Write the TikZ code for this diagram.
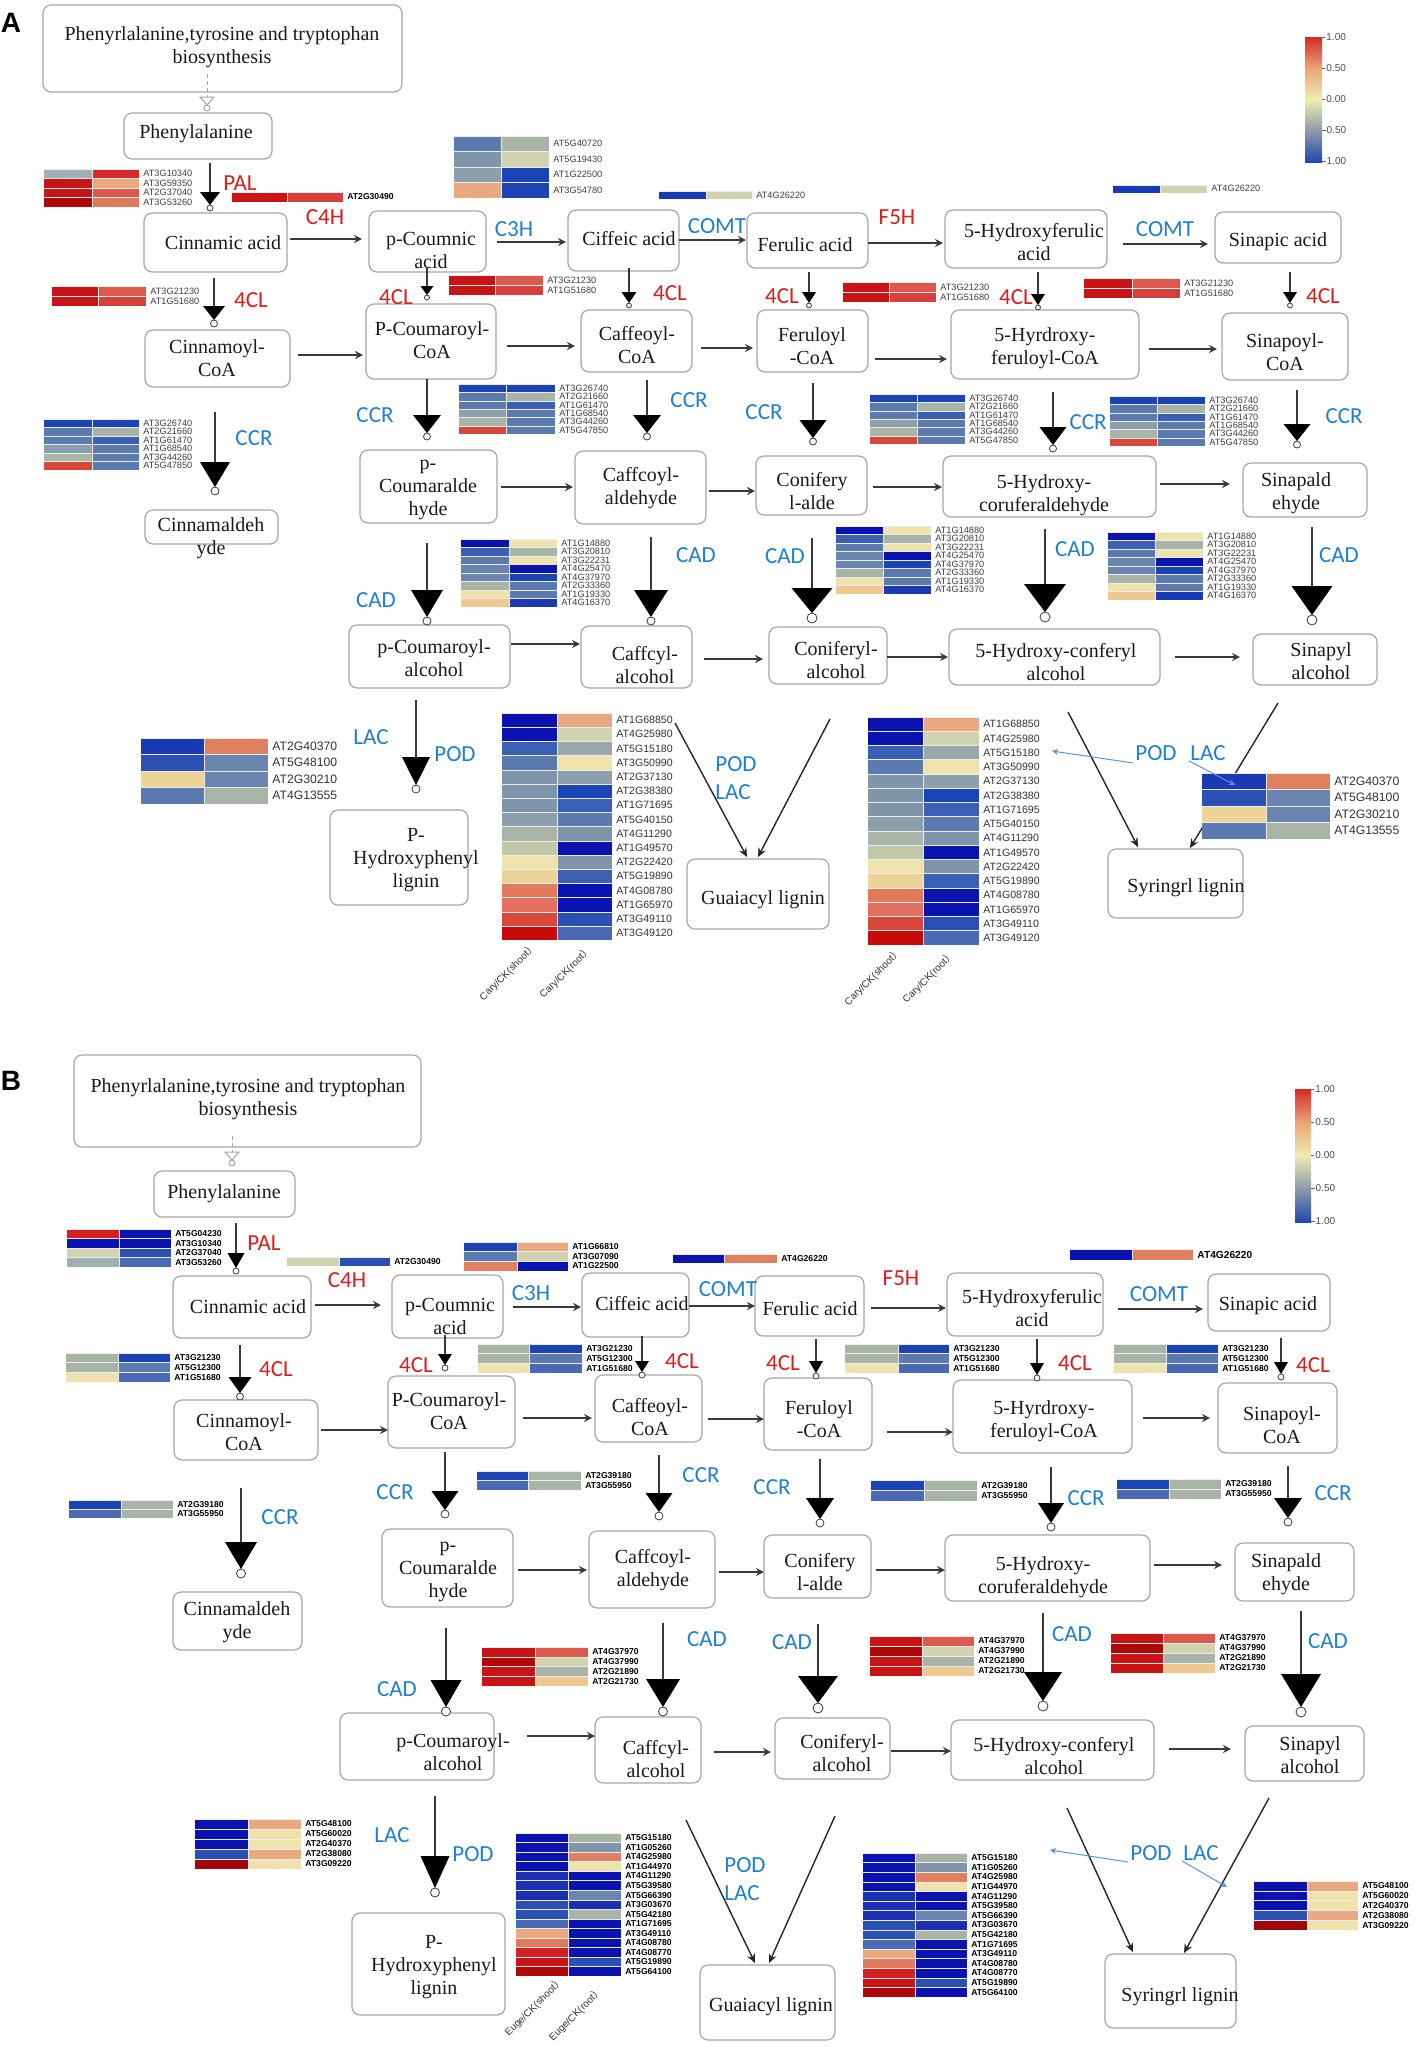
\documentclass[tikz,border=0pt]{standalone}
\usepackage{fontspec}
\setmainfont{Liberation Serif}
\newfontfamily\enzf{Carlito}
\newfontfamily\genef{Liberation Sans}
\newfontfamily\cjk{Noto Sans CJK SC}
\usetikzlibrary{calc,arrows.meta}
\definecolor{boxgrey}{HTML}{A6A6A6}
\definecolor{lineg}{HTML}{3A3A3A}
\definecolor{txtblack}{HTML}{1A1A1A}
\definecolor{enzred}{HTML}{DD1C1C}
\definecolor{enzblue}{HTML}{1E80D2}
\definecolor{ptrblue}{HTML}{5E92D8}
\definecolor{hDR}{HTML}{B00808}
\definecolor{hDRt}{HTML}{A00808}
\definecolor{hR}{HTML}{C81414}
\definecolor{hRb}{HTML}{D42A2A}
\definecolor{hRc}{HTML}{D6403A}
\definecolor{hRd}{HTML}{D42020}
\definecolor{hRe}{HTML}{C80A0A}
\definecolor{hRs}{HTML}{D9473A}
\definecolor{hSa}{HTML}{DC5A4C}
\definecolor{hSb}{HTML}{E07A5A}
\definecolor{hSc}{HTML}{E08060}
\definecolor{hSd}{HTML}{E47060}
\definecolor{hO}{HTML}{E8A880}
\definecolor{hOb}{HTML}{EEC890}
\definecolor{hY}{HTML}{F0E2AC}
\definecolor{hYb}{HTML}{ECD498}
\definecolor{hYg}{HTML}{D0D2B0}
\definecolor{hGr}{HTML}{A8B4A8}
\definecolor{hGy}{HTML}{C0C8A8}
\definecolor{hGb}{HTML}{8C9FAB}
\definecolor{hGbb}{HTML}{98A8AB}
\definecolor{hGbc}{HTML}{7F95AA}
\definecolor{hGbz}{HTML}{9FB0B5}
\definecolor{hSt}{HTML}{5A7AB0}
\definecolor{hStb}{HTML}{6A85B0}
\definecolor{hMb}{HTML}{4A6AB5}
\definecolor{hB}{HTML}{1A43B5}
\definecolor{hBb}{HTML}{1A3AB5}
\definecolor{hBc}{HTML}{3A60B5}
\definecolor{hBd}{HTML}{2A4FB5}
\definecolor{hBe}{HTML}{1A30B0}
\definecolor{hDB}{HTML}{0A12B0}
\definecolor{cbB}{HTML}{2346B0}
\definecolor{cbG}{HTML}{8C9AA8}
\definecolor{cbY}{HTML}{EFEDB4}
\definecolor{cbO}{HTML}{EAA478}
\definecolor{cbR}{HTML}{D42A2A}
\pgfdeclareverticalshading{cbar}{100bp}{color(0bp)=(cbB); color(25bp)=(cbB); color(37.5bp)=(cbG); color(50bp)=(cbY); color(62.5bp)=(cbO); color(75bp)=(cbR); color(100bp)=(cbR)}

\newcommand\bx[8]{%
 \node[boxst,minimum width={(#4-#2)*0.5pt},minimum height={(#5-#3)*0.5pt}] (#1) at ({(#2+#4)/2},{(#3+#5)/2}) {};
 \node[btx] (#1-t) at (#6,#7) {#8};}
\newcommand\rx[5]{%
 \coordinate (ry) at (0,#3);
 \draw[rxn] ($(#1.east |- ry)+(#4,0)$) -- ($(#2.west |- ry)+(-#5,0)$);}
\newcommand\enz[8]{%
 \coordinate (#1) at (#3,#5);
 \draw[enzl] ($(#2.south -| #1)+(0,#4)$) -- ($(#1)+(0,{2-#7})$);
 \fill[tri] (#1) -- ++({-#6/2},{-#7}) -- ++(#6,0) -- cycle;
 \draw[circst] ($(#1)+(0,{2*#8})$) circle[radius=#8pt];}
\newcommand\hmap[8]{%
 \edef\hmlist{#8}%
 \foreach \ca/\cb/\lab [count=\i] in \hmlist {%
  \pgfmathsetmacro\hmya{#5+(\i-1)*#6}%
  \pgfmathsetmacro\hmyb{#5+\i*#6}%
  \fill[\ca] (#2,\hmya) rectangle (#3,\hmyb);
  \fill[\cb] (#3,\hmya) rectangle (#4,\hmyb);
  \draw[hsep] (#2,\hmya) -- (#4,\hmya);
  \draw[hsep] (#3,\hmya) -- (#3,\hmyb);
  \node[#7] (#1-\i) at ({#4+4},{(\hmya+\hmyb)/2}) {\lab};
 }}

\def\LfclA{hR/hSa/AT3G21230,hR/hRc/AT1G51680}
\def\LccrA{hB/hB/AT3G26740,hSt/hGr/AT2G21660,hSt/hBc/AT1G61470,hGb/hSt/AT1G68540,hGr/hSt/AT3G44260,hRs/hSt/AT5G47850}
\def\LcadA{hDB/hY/AT1G14880,hBc/hGr/AT3G20810,hSt/hY/AT3G22231,hStb/hDB/AT4G25470,hStb/hB/AT4G37970,hGr/hSt/AT2G33360,hY/hSt/AT1G19330,hOb/hBb/AT4G16370}
\def\LlacA{hBb/hSc/AT2G40370,hBd/hStb/AT5G48100,hYb/hStb/AT2G30210,hSt/hGr/AT4G13555}
\def\LpodA{hDB/hO/AT1G68850,hDB/hYg/AT4G25980,hBc/hGbb/AT5G15180,hSt/hY/AT3G50990,hGbc/hGb/AT2G37130,hGbc/hB/AT2G38380,hGbc/hBc/AT1G71695,hGb/hSt/AT5G40150,hGr/hGbc/AT4G11290,hGy/hDB/AT1G49570,hY/hGbc/AT2G22420,hYb/hBc/AT5G19890,hSb/hDB/AT4G08780,hSd/hDB/AT1G65970,hRs/hBd/AT3G49110,hRe/hMb/AT3G49120}
\def\LfclB{hGr/hB/AT3G21230,hGr/hSt/AT5G12300,hY/hMb/AT1G51680}
\def\LccrB{hB/hGr/AT2G39180,hMb/hGr/AT3G55950}
\def\LcadB{hR/hSa/AT4G37970,hDR/hYg/AT4G37990,hR/hGr/AT2G21890,hR/hOb/AT2G21730}
\def\LlacB{hDB/hO/AT5G48100,hDB/hY/AT5G60020,hDB/hY/AT2G40370,hBd/hO/AT2G38080,hDRt/hY/AT3G09220}
\def\LpodB{hDB/hGr/AT5G15180,hDB/hGbc/AT1G05260,hDB/hSc/AT4G25980,hDB/hY/AT1G44970,hBe/hDB/AT4G11290,hBe/hDB/AT5G39580,hBe/hStb/AT5G66390,hBd/hBe/AT3G03670,hBd/hGr/AT5G42180,hMb/hDB/AT1G71695,hO/hDB/AT3G49110,hSb/hDB/AT4G08780,hRd/hDB/AT4G08770,hR/hBd/AT5G19890,hDR/hDB/AT5G64100}

\begin{document}
\begin{tikzpicture}[x=0.5pt,y=-0.5pt,
 boxst/.style={rectangle,draw=boxgrey,line width=0.6pt,rounded corners=4pt,fill=white,inner sep=0pt,outer sep=0pt},
 btx/.style={font=\fontsize{10}{11.5}\selectfont,align=center,inner sep=0pt,text=txtblack},
 rxn/.style={draw=lineg,line width=0.65pt,-{Stealth[length=4pt,width=4pt]}},
 lig/.style={draw=black!85,line width=0.7pt,-{Stealth[length=4.5pt,width=4pt]}},
 enzl/.style={draw=lineg,line width=0.6pt},
 tri/.style={fill=black},
 circst/.style={draw=lineg,fill=white,line width=0.4pt},
 er/.style={font=\enzf\fontsize{11.5}{12}\selectfont,text=enzred,inner sep=0pt},
 eb/.style={font=\enzf\fontsize{11.5}{12}\selectfont,text=enzblue,inner sep=0pt},
 hsep/.style={draw=white!85!gray,line width=0.3pt},
 gA/.style={anchor=west,inner sep=0pt,font=\genef\fontsize{4.6}{5}\selectfont,text=black!75},
 gAb/.style={anchor=west,inner sep=0pt,font=\genef\bfseries\fontsize{4.3}{5}\selectfont,text=black},
 gAm/.style={anchor=west,inner sep=0pt,font=\genef\fontsize{5.3}{6}\selectfont,text=black!80},
 gAl/.style={anchor=west,inner sep=0pt,font=\genef\fontsize{6.1}{7}\selectfont,text=black!80},
 gB/.style={anchor=west,inner sep=0pt,font=\genef\bfseries\fontsize{4.3}{5}\selectfont,text=black},
 gBm/.style={anchor=west,inner sep=0pt,font=\genef\bfseries\fontsize{5.1}{6}\selectfont,text=black},
 blarr/.style={draw=ptrblue,line width=0.5pt,-{Stealth[length=3pt,width=3pt]}},
 dashl/.style={draw=boxgrey,line width=0.5pt,dash pattern=on 2pt off 1.5pt},
 openmark/.style={draw=boxgrey,line width=0.5pt,fill=white},
 collab/.style={font=\genef\fontsize{5}{6}\selectfont,text=black!80,inner sep=0pt,rotate=45,anchor=east},
 cbl/.style={font=\genef\fontsize{5}{6}\selectfont,text=black!70,anchor=west,inner sep=0pt},
 panl/.style={font=\genef\bfseries\fontsize{14}{14}\selectfont,inner sep=0pt}]

\fill[white] (0,0) rectangle (1417,2047);
\useasboundingbox (0,0) rectangle (1417,2047);

% ================= PANEL A =================
\node[panl] (labA) at (11,23) {A};
\bx{topA}{43}{5}{402}{92}{222}{47}{Phenyrlalanine,tyrosine and tryptophan\\biosynthesis}
\bx{pheA}{124}{113}{272}{159}{196}{134}{Phenylalanine}
\bx{cinA}{144}{213}{287}{272}{223}{243}{Cinnamic acid}
\bx{pcaA}{369}{211}{486}{272}{431}{250}{p-Coumnic\\acid}
\bx{cafA}{568}{210}{679}{271}{629}{239}{Ciffeic acid}
\bx{ferA}{747}{213}{868}{268}{805}{245}{Ferulic acid}
\bx{hfaA}{945}{210}{1107}{268}{1034}{242}{5-Hydroxyferulic\\acid}
\bx{sinA}{1215}{212}{1341}{263}{1278}{242}{Sinapic acid}
\bx{ciCoA}{145}{330}{290}{387}{217}{358}{Cinnamoyl-\\CoA}
\bx{pcCoA}{366}{304}{496}{379}{432}{340}{P-Coumaroyl-\\CoA}
\bx{cfCoA}{581}{310}{692}{372}{637}{345}{Caffeoyl-\\CoA}
\bx{feCoA}{757}{310}{868}{372}{812}{346}{Feruloyl\\-CoA}
\bx{hfCoA}{951}{310}{1139}{379}{1045}{348}{5-Hyrdroxy-\\feruloyl-CoA}
\bx{snCoA}{1222}{313}{1348}{380}{1285}{352}{Sinapoyl-\\CoA}
\bx{caldA}{145}{510}{278}{544}{211}{538}{Cinnamaldeh\\yde}
\bx{pcaldA}{360}{450}{497}{523}{428}{490}{p-\\Coumaralde\\hyde}
\bx{cfaldA}{575}{451}{706}{524}{641}{488}{Caffcoyl-\\aldehyde}
\bx{coaldA}{756}{456}{867}{515}{812}{491}{Conifery\\l-alde}
\bx{hcaldA}{943}{456}{1156}{517}{1044}{495}{5-Hydroxy-\\coruferaldehyde}
\bx{snaldA}{1243}{463}{1367}{517}{1296}{493}{Sinapald\\ehyde}
\bx{pcalcA}{349}{625}{510}{688}{434}{658}{p-Coumaroyl-\\alcohol}
\bx{cfalcA}{581}{626}{692}{688}{645}{665}{Caffcyl-\\alcohol}
\bx{coalcA}{769}{627}{887}{684}{836}{660}{Coniferyl-\\alcohol}
\bx{hcalcA}{949}{629}{1160}{685}{1056}{662}{5-Hydroxy-conferyl\\alcohol}
\bx{snalcA}{1253}{634}{1377}{685}{1321}{661}{Sinapyl\\alcohol}
\bx{phlA}{330}{810}{468}{905}{416}{860}{P-\\Hydroxyphenyl\\lignin}
\bx{glA}{687}{859}{829}{929}{763}{900}{Guaiacyl lignin}
\bx{slA}{1108}{849}{1243}{918}{1186}{888}{Syringrl lignin}

% dashed link
\coordinate (dA) at (207,97);
\draw[dashl] ($(topA.south -| dA)+(0,-18)$) -- (dA);
\draw[openmark] (dA) ++(-7,0) -- ++(14,0) -- ++(-7,8) -- cycle;
\draw[openmark] ($(dA)+(0,11)$) circle[radius=1.5pt];

% reaction arrows A
\rx{cinA}{pcaA}{239}{3}{7}
\rx{pcaA}{cafA}{242}{11}{2}
\rx{cafA}{ferA}{240}{0}{1}
\rx{ferA}{hfaA}{243}{0}{2}
\rx{hfaA}{sinA}{244}{16}{7}
\rx{ciCoA}{pcCoA}{355}{8}{3}
\rx{pcCoA}{cfCoA}{346}{11}{6}
\rx{cfCoA}{feCoA}{348}{9}{4}
\rx{feCoA}{hfCoA}{359}{7}{4}
\rx{hfCoA}{snCoA}{349}{10}{5}
\rx{pcaldA}{cfaldA}{487}{4}{2}
\rx{cfaldA}{coaldA}{491}{3}{1}
\rx{coaldA}{hcaldA}{487}{6}{1}
\rx{hcaldA}{snaldA}{484}{4}{13}
\rx{pcalcA}{cfalcA}{644}{1}{1}
\rx{cfalcA}{coalcA}{659}{12}{6}
\rx{coalcA}{hcalcA}{657}{0}{1}
\rx{hcalcA}{snalcA}{657}{15}{13}

% enzyme arrows A
\enz{eA1}{pheA}{210}{4}{205}{20}{13}{1.5}
\enz{eA2}{cinA}{214}{6}{320}{22}{14}{1.75}
\enz{eA3}{pcaA}{427}{-5}{295}{13}{9}{1.25}
\enz{eA4}{cafA}{629}{-3}{303}{15}{11}{1.25}
\enz{eA5}{ferA}{809}{4}{303}{14}{11}{1.25}
\enz{eA6}{hfaA}{1038}{4}{305}{14}{11}{1.25}
\enz{eA7}{sinA}{1290}{9}{303}{14}{11}{1.25}
\enz{eA8}{ciCoA}{215}{25}{487}{30}{25}{2}
\enz{eA9}{pcCoA}{427}{0}{433}{28}{18}{1.75}
\enz{eA10}{cfCoA}{647}{8}{433}{28}{18}{1.75}
\enz{eA11}{feCoA}{813}{11}{438}{27}{18}{1.75}
\enz{eA12}{hfCoA}{1053}{13}{445}{27}{18}{1.75}
\enz{eA13}{snCoA}{1297}{10}{441}{27}{17}{1.75}
\enz{eA14}{pcaldA}{427}{20}{617}{32}{27}{2}
\enz{eA15}{cfaldA}{651}{13}{617}{34}{27}{2}
\enz{eA16}{coaldA}{812}{23}{613}{41}{25}{2.5}
\enz{eA17}{hcaldA}{1045}{12}{612}{42}{28}{2.5}
\enz{eA18}{snaldA}{1312}{10}{615}{41}{29}{2.5}
\enz{eA19}{pcalcA}{416}{12}{785}{28}{28}{2}

% lignin arrows A
\coordinate (gA1) at (675,723);
\coordinate (gA2) at (830,719);
\draw[lig] (gA1) -- ($(glA.north west)+(60,-2)$);
\draw[lig] (gA2) -- ($(glA.north west)+(71,-2)$);
\coordinate (sA1) at (1068,712);
\coordinate (sA2) at (1278,703);
\draw[lig] (sA1) -- ($(slA.north west)+(30,-2)$);
\draw[lig] (sA2) -- ($(slA.north west)+(82,-1)$);

% heatmaps A
\hmap{hPALA}{44}{92}{139}{169}{9.5}{gA}{hGbz/hRb/AT3G10340,hR/hO/AT3G59350,hR/hSa/AT2G37040,hDR/hSb/AT3G53260}
\hmap{hC4HA}{232}{287}{343}{192}{10}{gAb}{hR/hRc/AT2G30490}
\hmap{hC3HA}{454}{501}{549}{136}{15.5}{gA}{hSt/hGr/AT5G40720,hGbc/hYg/AT5G19430,hGb/hB/AT1G22500,hO/hB/AT3G54780}
\hmap{hCOMTA1}{659}{706}{752}{191}{8}{gA}{hBb/hYg/AT4G26220}
\hmap{hCOMTA2}{1113}{1160}{1207}{185}{7.5}{gA}{hBb/hYg/AT4G26220}
\hmap{h4CLA1}{52}{98}{146}{286}{10}{gA}{\LfclA}
\hmap{h4CLA2}{449}{495}{543}{275}{10}{gA}{\LfclA}
\hmap{h4CLA3}{843}{889}{936}{282}{10}{gA}{\LfclA}
\hmap{h4CLA4}{1084}{1132}{1180}{278}{10}{gA}{\LfclA}
\hmap{hCCRA1}{44}{92}{139}{419}{8.5}{gA}{\LccrA}
\hmap{hCCRA2}{459}{506}{555}{384}{8.4}{gA}{\LccrA}
\hmap{hCCRA3}{870}{917}{965}{394}{8.4}{gA}{\LccrA}
\hmap{hCCRA4}{1110}{1157}{1205}{396}{8.4}{gA}{\LccrA}
\hmap{hCADA1}{461}{509}{557}{539}{8.5}{gA}{\LcadA}
\hmap{hCADA2}{836}{883}{931}{526}{8.5}{gA}{\LcadA}
\hmap{hCADA3}{1108}{1155}{1203}{532}{8.5}{gA}{\LcadA}
\hmap{hLACA1}{141}{204}{268}{738}{16.5}{gAl}{\LlacA}
\hmap{hPODA1}{502}{557}{612}{713}{14.2}{gAm}{\LpodA}
\hmap{hPODA2}{868}{923}{979}{717}{14.25}{gAm}{\LpodA}
\hmap{hLACA2}{1202}{1266}{1330}{773}{16.5}{gAl}{\LlacA}

\node[collab] (cA1) at (535,945) {Cary/CK(shoot{\cjk ）}};
\node[collab] (cA2) at (590,948) {Cary/CK(root{\cjk ）}};
\node[collab] (cA3) at (900,950) {Cary/CK(shoot{\cjk ）}};
\node[collab] (cA4) at (953,953) {Cary/CK(root{\cjk ）}};

% enzyme labels A
\node[er] (lPALA) at (240,183) {PAL};
\node[er] (lC4HA) at (325,217) {C4H};
\node[eb] (lC3HA) at (514,229) {C3H};
\node[eb] (lCOMTA1) at (717,226) {COMT};
\node[er] (lF5HA) at (897,217) {F5H};
\node[eb] (lCOMTA2) at (1165,229) {COMT};
\node[er] (l4CLA1) at (251,300) {4CL};
\node[er] (l4CLA2) at (396,297) {4CL};
\node[er] (l4CLA3) at (670,293) {4CL};
\node[er] (l4CLA4) at (782,296) {4CL};
\node[er] (l4CLA5) at (1016,297) {4CL};
\node[er] (l4CLA6) at (1323,296) {4CL};
\node[eb] (lCCRA1) at (254,438) {CCR};
\node[eb] (lCCRA2) at (375,415) {CCR};
\node[eb] (lCCRA3) at (689,400) {CCR};
\node[eb] (lCCRA4) at (764,412) {CCR};
\node[eb] (lCCRA5) at (1088,422) {CCR};
\node[eb] (lCCRA6) at (1344,416) {CCR};
\node[eb] (lCADA1) at (376,600) {CAD};
\node[eb] (lCADA2) at (696,555) {CAD};
\node[eb] (lCADA3) at (785,556) {CAD};
\node[eb] (lCADA4) at (1075,549) {CAD};
\node[eb] (lCADA5) at (1339,555) {CAD};
\node[eb] (lLACA1) at (371,737) {LAC};
\node[eb] (lPODA1) at (455,754) {POD};
\node[eb] (lPODA2) at (736,764) {POD};
\node[eb] (lLACA2) at (733,792) {LAC};
\node[eb] (lPODA3) at (1156,753) {POD};
\node[eb] (lLACA3) at (1208,753) {LAC};

\coordinate (pA1) at (1052,751);
\coordinate (pA2) at (1235,785);
\draw[blarr] ($(lPODA3.south west)+(-2,2)$) -- (pA1);
\draw[blarr] ($(lLACA3.south west)+(-1,0)$) -- (pA2);

% colour bar A
\shade[shading=cbar] (1305,37) rectangle (1322,162);
\foreach \yy in {37,68,99,130,161} \draw[black!60,line width=0.3pt] (1322,\yy) -- (1325,\yy);
\node[cbl] (cbA1) at (1326,37) {1.00};
\node[cbl] (cbA2) at (1326,68) {0.50};
\node[cbl] (cbA3) at (1326,99) {0.00};
\node[cbl] (cbA4) at (1323,130) {-0.50};
\node[cbl] (cbA5) at (1323,161) {-1.00};

% ================= PANEL B =================
\node[panl] (labB) at (11,1081) {B};
\bx{topB}{74}{1055}{421}{1147}{248}{1099}{Phenyrlalanine,tyrosine and tryptophan\\biosynthesis}
\bx{pheB}{154}{1171}{295}{1217}{224}{1194}{Phenylalanine}
\bx{cinB}{173}{1276}{311}{1338}{248}{1307}{Cinnamic acid}
\bx{pcaB}{392}{1275}{503}{1338}{450}{1316}{p-Coumnic\\acid}
\bx{cafB}{582}{1273}{689}{1337}{642}{1304}{Ciffeic acid}
\bx{ferB}{755}{1276}{864}{1336}{810}{1309}{Ferulic acid}
\bx{hfaB}{947}{1273}{1103}{1336}{1032}{1308}{5-Hydroxyferulic\\acid}
\bx{sinB}{1208}{1274}{1330}{1331}{1268}{1306}{Sinapic acid}
\bx{ciCoB}{174}{1400}{318}{1460}{244}{1432}{Cinnamoyl-\\CoA}
\bx{pcCoB}{388}{1376}{515}{1448}{449}{1411}{P-Coumaroyl-\\CoA}
\bx{cfCoB}{595}{1375}{702}{1442}{650}{1417}{Caffeoyl-\\CoA}
\bx{feCoB}{764}{1378}{872}{1450}{819}{1419}{Feruloyl\\-CoA}
\bx{hfCoB}{953}{1380}{1132}{1453}{1044}{1421}{5-Hyrdroxy-\\feruloyl-CoA}
\bx{snCoB}{1218}{1383}{1337}{1453}{1282}{1425}{Sinapoyl-\\CoA}
\bx{caldB}{173}{1592}{302}{1650}{237}{1622}{Cinnamaldeh\\yde}
\bx{pcaldB}{382}{1529}{513}{1607}{448}{1572}{p-\\Coumaralde\\hyde}
\bx{cfaldB}{589}{1531}{715}{1608}{653}{1570}{Caffcoyl-\\aldehyde}
\bx{coaldB}{764}{1535}{871}{1598}{820}{1572}{Conifery\\l-alde}
\bx{hcaldB}{945}{1535}{1150}{1601}{1043}{1577}{5-Hydroxy-\\coruferaldehyde}
\bx{snaldB}{1235}{1543}{1354}{1601}{1286}{1574}{Sinapald\\ehyde}
\bx{pcalcB}{340}{1713}{494}{1780}{453}{1752}{p-Coumaroyl-\\alcohol}
\bx{cfalcB}{595}{1717}{701}{1783}{656}{1759}{Caffcyl-\\alcohol}
\bx{coalcB}{775}{1718}{890}{1779}{842}{1753}{Coniferyl-\\alcohol}
\bx{hcalcB}{951}{1720}{1154}{1780}{1054}{1756}{5-Hydroxy-conferyl\\alcohol}
\bx{snalcB}{1245}{1726}{1364}{1781}{1310}{1755}{Sinapyl\\alcohol}
\bx{phlB}{352}{1913}{505}{2015}{434}{1967}{P-\\Hydroxyphenyl\\lignin}
\bx{glB}{700}{1965}{835}{2040}{771}{2007}{Guaiacyl lignin}
\bx{slB}{1105}{1954}{1236}{2028}{1180}{1997}{Syringrl lignin}

\coordinate (dB) at (232,1152);
\draw[dashl] ($(topB.south -| dB)+(0,-11)$) -- (dB);
\draw[openmark] (dB) ++(-7,0) -- ++(14,0) -- ++(-7,8) -- cycle;
\draw[openmark] ($(dB)+(0,11)$) circle[radius=1.5pt];

\rx{cinB}{pcaB}{1305}{4}{11}
\rx{pcaB}{cafB}{1307}{10}{1}
\rx{cafB}{ferB}{1306}{0}{0}
\rx{ferB}{hfaB}{1308}{7}{1}
\rx{hfaB}{sinB}{1309}{15}{5}
\rx{ciCoB}{pcCoB}{1430}{3}{0}
\rx{pcCoB}{cfCoB}{1418}{8}{3}
\rx{cfCoB}{feCoB}{1419}{6}{0}
\rx{feCoB}{hfCoB}{1432}{15}{0}
\rx{hfCoB}{snCoB}{1418}{11}{8}
\rx{pcaldB}{cfaldB}{1570}{5}{2}
\rx{cfaldB}{coaldB}{1572}{4}{0}
\rx{coaldB}{hcaldB}{1570}{5}{0}
\rx{hcaldB}{snaldB}{1565}{4}{13}
\rx{pcalcB}{cfalcB}{1736}{33}{0}
\rx{cfalcB}{coalcB}{1752}{13}{4}
\rx{coalcB}{hcalcB}{1751}{1}{0}
\rx{hcalcB}{snalcB}{1749}{15}{14}

\enz{eB1}{pheB}{236}{6}{1268}{17}{15}{1.5}
\enz{eB2}{cinB}{240}{7}{1393}{23}{16}{1.75}
\enz{eB3}{pcaB}{445}{-3}{1365}{14}{11}{1.5}
\enz{eB4}{cafB}{642}{-1}{1372}{14}{11}{1.5}
\enz{eB5}{ferB}{816}{3}{1373}{14}{12}{1.5}
\enz{eB6}{hfaB}{1037}{3}{1375}{14}{12}{1.5}
\enz{eB7}{sinB}{1281}{7}{1374}{14}{12}{1.5}
\enz{eB8}{ciCoB}{241}{28}{1569}{32}{27}{2.25}
\enz{eB9}{pcCoB}{445}{4}{1510}{27}{19}{2}
\enz{eB10}{cfCoB}{659}{13}{1512}{27}{19}{2}
\enz{eB11}{feCoB}{820}{9}{1519}{28}{21}{2}
\enz{eB12}{hfCoB}{1051}{14}{1523}{26}{20}{2}
\enz{eB13}{snCoB}{1288}{13}{1518}{28}{20}{2}
\enz{eB14}{pcaldB}{446}{21}{1707}{31}{27}{2.25}
\enz{eB15}{cfaldB}{663}{15}{1707}{34}{28}{2.25}
\enz{eB16}{coaldB}{818}{26}{1703}{40}{27}{2.5}
\enz{eB17}{hcaldB}{1043}{12}{1701}{38}{29}{2.5}
\enz{eB18}{snaldB}{1301}{10}{1707}{40}{33}{2.5}
\enz{eB19}{pcalcB}{435}{16}{1888}{29}{32}{2.25}

\coordinate (gB1) at (686,1820);
\coordinate (gB2) at (835,1816);
\draw[lig] (gB1) -- ($(glB.north west)+(55,-2)$);
\draw[lig] (gB2) -- ($(glB.north west)+(69,-2)$);
\coordinate (sB1) at (1067,1808);
\coordinate (sB2) at (1269,1798);
\draw[lig] (sB1) -- ($(slB.north west)+(28,-2)$);
\draw[lig] (sB2) -- ($(slB.north west)+(79,-1)$);

\hmap{hPALB}{67}{119}{171}{1229}{9.5}{gB}{hRd/hDB/AT5G04230,hDB/hDB/AT3G10340,hYg/hBd/AT2G37040,hGbz/hMb/AT3G53260}
\hmap{hC4HB}{287}{339}{390}{1257}{8.5}{gB}{hYg/hBd/AT2G30490}
\hmap{hC3HB}{464}{517}{568}{1242}{9.5}{gB}{hB/hO/AT1G66810,hSt/hYg/AT3G07090,hSc/hDB/AT1G22500}
\hmap{hCOMTB1}{673}{724}{777}{1254}{9}{gB}{hDB/hSc/AT4G26220}
\hmap{hCOMTB2}{1070}{1132}{1193}{1249}{11}{gBm}{hDB/hSc/AT4G26220}
\hmap{h4CLB1}{66}{118}{170}{1353}{9.7}{gB}{\LfclB}
\hmap{h4CLB2}{478}{529}{582}{1344}{9.7}{gB}{\LfclB}
\hmap{h4CLB3}{845}{898}{949}{1344}{9.7}{gB}{\LfclB}
\hmap{h4CLB4}{1114}{1166}{1218}{1344}{9.7}{gB}{\LfclB}
\hmap{hCCRB1}{69}{121}{173}{1500}{9}{gB}{\LccrB}
\hmap{hCCRB2}{477}{528}{581}{1471}{9.5}{gB}{\LccrB}
\hmap{hCCRB3}{871}{924}{977}{1480}{10.5}{gB}{\LccrB}
\hmap{hCCRB4}{1117}{1169}{1221}{1479}{10}{gB}{\LccrB}
\hmap{hCADB1}{482}{535}{588}{1647}{9.8}{gB}{\LcadB}
\hmap{hCADB2}{870}{922}{974}{1636}{10}{gB}{\LcadB}
\hmap{hCADB3}{1111}{1163}{1215}{1633}{10}{gB}{\LcadB}
\hmap{hLACB1}{195}{248}{301}{1819}{10}{gB}{\LlacB}
\hmap{hPODB1}{516}{568}{621}{1833}{9.55}{gB}{\LpodB}
\hmap{hPODB2}{863}{915}{967}{1853}{9.6}{gB}{\LpodB}
\hmap{hLACB2}{1254}{1307}{1358}{1881}{9.8}{gB}{\LlacB}

\node[collab] (cB1) at (562,1979) {Euge/CK(shoot{\cjk ）}};
\node[collab] (cB2) at (601,1989) {Euge/CK(root{\cjk ）}};

\node[er] (lPALB) at (264,1243) {PAL};
\node[er] (lC4HB) at (347,1280) {C4H};
\node[eb] (lC3HB) at (531,1293) {C3H};
\node[eb] (lCOMTB1) at (728,1289) {COMT};
\node[er] (lF5HB) at (901,1278) {F5H};
\node[eb] (lCOMTB2) at (1159,1294) {COMT};
\node[er] (l4CLB1) at (276,1369) {4CL};
\node[er] (l4CLB2) at (416,1365) {4CL};
\node[er] (l4CLB3) at (682,1361) {4CL};
\node[er] (l4CLB4) at (783,1363) {4CL};
\node[er] (l4CLB5) at (1075,1363) {4CL};
\node[er] (l4CLB6) at (1313,1365) {4CL};
\node[eb] (lCCRB1) at (280,1517) {CCR};
\node[eb] (lCCRB2) at (395,1492) {CCR};
\node[eb] (lCCRB3) at (701,1475) {CCR};
\node[eb] (lCCRB4) at (772,1487) {CCR};
\node[eb] (lCCRB5) at (1086,1498) {CCR};
\node[eb] (lCCRB6) at (1333,1493) {CCR};
\node[eb] (lCADB1) at (397,1689) {CAD};
\node[eb] (lCADB2) at (707,1639) {CAD};
\node[eb] (lCADB3) at (792,1642) {CAD};
\node[eb] (lCADB4) at (1072,1634) {CAD};
\node[eb] (lCADB5) at (1328,1641) {CAD};
\node[eb] (lLACB1) at (392,1835) {LAC};
\node[eb] (lPODB1) at (473,1854) {POD};
\node[eb] (lPODB2) at (745,1865) {POD};
\node[eb] (lLACB2) at (742,1893) {LAC};
\node[eb] (lPODB3) at (1151,1853) {POD};
\node[eb] (lLACB3) at (1201,1853) {LAC};

\coordinate (pB1) at (1050,1850);
\coordinate (pB2) at (1227,1887);
\draw[blarr] ($(lPODB3.south west)+(-2,1)$) -- (pB1);
\draw[blarr] ($(lLACB3.south west)+(-1,0)$) -- (pB2);

\shade[shading=cbar] (1295,1089) rectangle (1311,1222);
\foreach \yy in {1089,1122,1155,1188,1221} \draw[black!60,line width=0.3pt] (1311,\yy) -- (1314,\yy);
\node[cbl] (cbB1) at (1315,1089) {1.00};
\node[cbl] (cbB2) at (1315,1122) {0.50};
\node[cbl] (cbB3) at (1315,1155) {0.00};
\node[cbl] (cbB4) at (1312,1188) {-0.50};
\node[cbl] (cbB5) at (1312,1221) {-1.00};
\end{tikzpicture}
\end{document}
